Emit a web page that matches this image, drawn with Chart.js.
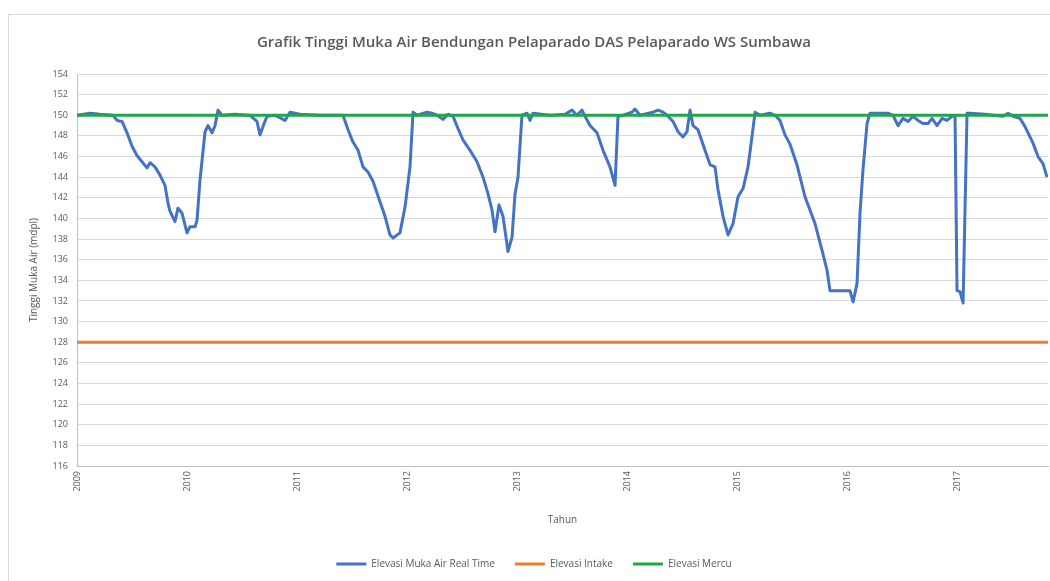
<!DOCTYPE html>
<html>
<head>
<meta charset="utf-8">
<script src="https://cdn.jsdelivr.net/npm/chart.js@4"></script>
<style>
  html, body { margin: 0; padding: 0; background: #fff; }
  #wrap { position: relative; width: 1050px; height: 581px; overflow: hidden; }
  #frame { position: absolute; left: 8px; top: 14px; width: 1100px; height: 700px; border: 1px solid #d9d9d9; box-sizing: border-box; }
  canvas { position: absolute; left: 0; top: 0; }
</style>
</head>
<body>
<div id="wrap">
  <div id="frame"></div>
  <canvas id="tmaChart" width="1050" height="581"></canvas>
</div>
<script>
// waktu pengamatan (tahun desimal) dan tinggi muka air (mdpl)
const tahun = [
  2009.000, 2009.118, 2009.209, 2009.327, 2009.364, 2009.409, 2009.455, 2009.500,
  2009.545, 2009.591, 2009.636, 2009.664, 2009.709, 2009.755, 2009.800, 2009.827,
  2009.845, 2009.891, 2009.918, 2009.955, 2010.000, 2010.027, 2010.073, 2010.091,
  2010.118, 2010.164, 2010.191, 2010.227, 2010.255, 2010.282, 2010.318, 2010.436,
  2010.573, 2010.636, 2010.664, 2010.691, 2010.727, 2010.800, 2010.891, 2010.936,
  2011.027, 2011.209, 2011.418, 2011.464, 2011.509, 2011.555, 2011.600, 2011.645,
  2011.691, 2011.755, 2011.800, 2011.845, 2011.873, 2011.936, 2011.982, 2012.027,
  2012.055, 2012.091, 2012.182, 2012.227, 2012.273, 2012.327, 2012.373, 2012.418,
  2012.464, 2012.509, 2012.573, 2012.636, 2012.691, 2012.736, 2012.773, 2012.800,
  2012.836, 2012.873, 2012.918, 2012.955, 2012.982, 2013.009, 2013.045, 2013.091,
  2013.118, 2013.145, 2013.300, 2013.436, 2013.500, 2013.545, 2013.591, 2013.618,
  2013.664, 2013.727, 2013.782, 2013.845, 2013.891, 2013.918, 2013.964, 2014.045,
  2014.073, 2014.118, 2014.236, 2014.282, 2014.327, 2014.364, 2014.418, 2014.464,
  2014.509, 2014.545, 2014.573, 2014.600, 2014.645, 2014.709, 2014.755, 2014.800,
  2014.827, 2014.873, 2014.918, 2014.964, 2015.009, 2015.055, 2015.100, 2015.136,
  2015.164, 2015.209, 2015.300, 2015.345, 2015.391, 2015.436, 2015.482, 2015.545,
  2015.618, 2015.709, 2015.773, 2015.818, 2015.845, 2015.936, 2016.027, 2016.055,
  2016.091, 2016.118, 2016.145, 2016.182, 2016.209, 2016.373, 2016.418, 2016.464,
  2016.509, 2016.555, 2016.600, 2016.645, 2016.691, 2016.736, 2016.773, 2016.818,
  2016.864, 2016.909, 2016.955, 2016.982, 2017.000, 2017.027, 2017.055, 2017.091,
  2017.118, 2017.255, 2017.418, 2017.464, 2017.509, 2017.573, 2017.618, 2017.691,
  2017.736, 2017.782, 2017.818
];
const elevasiRealTime = [
  150.0, 150.2, 150.1, 150.0, 149.5, 149.4, 148.3, 147.0,
  146.1, 145.5, 144.9, 145.4, 145.0, 144.2, 143.2, 141.5,
  140.7, 139.7, 141.0, 140.5, 138.6, 139.2, 139.2, 139.8,
  143.7, 148.4, 149.0, 148.3, 149.0, 150.5, 150.0, 150.1,
  150.0, 149.4, 148.1, 148.9, 149.9, 150.0, 149.5, 150.3,
  150.1, 150.0, 150.0, 148.6, 147.4, 146.6, 145.0, 144.5,
  143.6, 141.6, 140.2, 138.4, 138.1, 138.6, 141.1, 145.0,
  150.3, 150.0, 150.3, 150.2, 150.0, 149.6, 150.1, 149.9,
  148.7, 147.6, 146.6, 145.5, 144.0, 142.4, 140.8, 138.7,
  141.3, 140.2, 136.8, 138.2, 142.4, 144.0, 150.0, 150.2,
  149.5, 150.2, 150.0, 150.1, 150.5, 150.0, 150.5, 149.9,
  149.0, 148.3, 146.6, 145.0, 143.2, 149.9, 150.0, 150.3,
  150.6, 150.0, 150.3, 150.5, 150.3, 150.0, 149.4, 148.4,
  147.9, 148.4, 150.5, 149.0, 148.6, 146.6, 145.2, 145.0,
  142.8, 140.2, 138.4, 139.5, 142.1, 142.9, 145.0, 147.9,
  150.3, 150.0, 150.2, 150.0, 149.5, 148.1, 147.2, 145.2,
  142.1, 139.5, 136.9, 135.0, 133.0, 133.0, 133.0, 131.9,
  133.7, 140.5, 144.7, 149.2, 150.2, 150.2, 150.0, 149.0,
  149.7, 149.4, 149.9, 149.5, 149.2, 149.2, 149.7, 149.0,
  149.7, 149.5, 149.9, 149.9, 133.0, 132.9, 131.8, 150.2,
  150.2, 150.1, 149.9, 150.2, 149.9, 149.7, 148.9, 147.3,
  146.0, 145.3, 144.0
];
const elevasiIntake = 128;
const elevasiMercu = 150;
const tahunAwal = 2009;
const tahunAkhir = 2017.827;
const yTicks = { min: 116, max: 154, step: 2 };

const realTime = tahun.map((t, i) => ({ x: t, y: elevasiRealTime[i] }));
const garis = (v) => [{ x: tahunAwal, y: v }, { x: tahunAkhir, y: v }];
const abu = "#595959";

new Chart(document.getElementById("tmaChart"), {
  type: "line",
  data: {
    datasets: [
      {
        label: "Elevasi Muka Air Real Time",
        data: realTime,
        borderColor: "#4472C4",
        backgroundColor: "#4472C4",
        borderWidth: 3,
        pointRadius: 0,
        borderJoinStyle: "round",
        order: 2,
      },
      {
        label: "Elevasi Intake",
        data: garis(elevasiIntake),
        borderColor: "#ED7D31",
        backgroundColor: "#ED7D31",
        borderWidth: 3,
        pointRadius: 0,
        order: 1,
      },
      {
        label: "Elevasi Mercu",
        data: garis(elevasiMercu),
        borderColor: "#1FA64A",
        backgroundColor: "#1FA64A",
        borderWidth: 3,
        pointRadius: 0,
        order: 0,
      },
    ],
  },
  options: {
    responsive: false,
    animation: false,
    layout: { padding: { left: 20, right: 2, top: 0, bottom: 2 } },
    plugins: {
      title: {
        display: true,
        text: "Grafik Tinggi Muka Air Bendungan Pelaparado DAS Pelaparado WS Sumbawa",
        color: abu,
        font: { family: "Open Sans", size: 15, weight: "600" },
        padding: { top: 34, bottom: 22 },
      },
      legend: {
        position: "bottom",
        labels: {
          usePointStyle: true,
          pointStyle: "line",
          pointStyleWidth: 30,
          color: abu,
          font: { family: "Open Sans", size: 10 },
          padding: 20,
          sort: (a, b) => a.datasetIndex - b.datasetIndex,
        },
      },
      tooltip: { enabled: false },
    },
    scales: {
      x: {
        type: "linear",
        min: tahunAwal,
        max: tahunAkhir,
        grid: { display: false, drawTicks: false },
        border: { color: "#bfbfbf" },
        ticks: {
          stepSize: 1,
          includeBounds: false,
          minRotation: 90,
          maxRotation: 90,
          padding: 5,
          color: abu,
          font: { family: "Open Sans", size: 9 },
          callback: (v) => String(v),
        },
        title: {
          display: true,
          text: "Tahun",
          color: abu,
          font: { family: "Open Sans", size: 10 },
          padding: { top: 4, bottom: 13 },
        },
        afterFit: (axis) => { axis.height = 73; },
      },
      y: {
        min: yTicks.min,
        max: yTicks.max,
        grid: { color: "#d9d9d9", drawTicks: false },
        border: { color: "#bfbfbf" },
        ticks: {
          stepSize: yTicks.step,
          padding: 9,
          color: abu,
          font: { family: "Open Sans", size: 9 },
        },
        title: {
          display: true,
          text: "Tinggi Muka Air (mdpl)",
          color: abu,
          font: { family: "Open Sans", size: 10 },
          padding: { top: 8 },
        },
        afterFit: (axis) => { axis.width = 57; },
      },
    },
  },
});
</script>
</body>
</html>
